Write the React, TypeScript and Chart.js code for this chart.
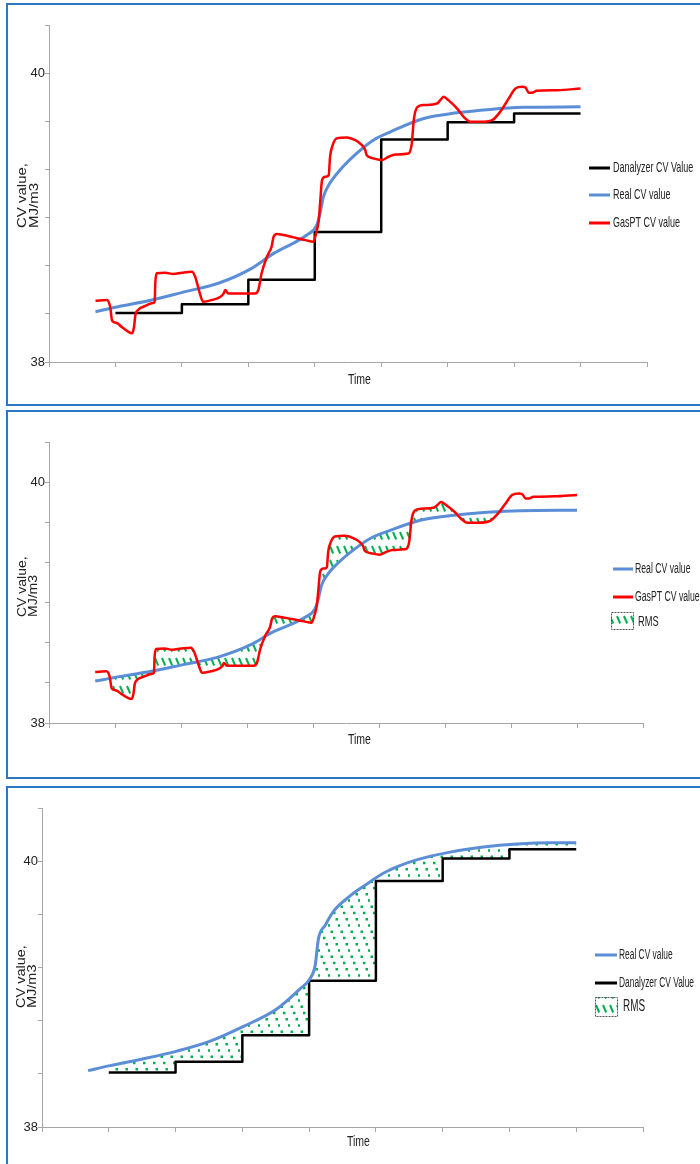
import React, { useEffect, useRef } from 'react';
import { Chart, registerables } from 'chart.js';

Chart.register(...registerables);

// ---------- data ----------
const xTicks = [0, 1, 2, 3, 4, 5, 6, 7, 8, 9];
const yTicksTop = [38, 38 + 1 / 3, 38 + 2 / 3, 39, 39 + 1 / 3, 39 + 2 / 3, 40, 40 + 1 / 3];
const yTicksBottom = [38, 38.4, 38.8, 39.2, 39.6, 40, 40.4];
const yTickLabels = [38, 40];

const stepTimes = [1, 2, 3, 4, 5, 6, 7, 8];
const danalyzerCV = [38.34, 38.4, 38.57, 38.9, 39.54, 39.66, 39.72, 39.72];
const danalyzerCV3 = [38.41, 38.49, 38.69, 39.1, 39.85, 40.02, 40.09, 40.09];

const realTimes = [0.7, 1.04, 1.55, 2.05, 2.55, 3.05, 3.38, 3.88, 4.03, 4.08, 4.13, 4.21, 4.38, 4.63, 4.88, 5.14, 5.64, 6.14, 6.64, 7.14, 8.0];
const realCV = [38.348, 38.383, 38.429, 38.487, 38.545, 38.648, 38.752, 38.879, 38.948, 39.03, 39.144, 39.225, 39.329, 39.444, 39.536, 39.594, 39.686, 39.725, 39.749, 39.763, 39.767];

const realTimes3 = [0.69, 1.02, 1.52, 2.02, 2.52, 3.01, 3.51, 3.86, 4.01, 4.09, 4.14, 4.24, 4.36, 4.6, 4.86, 5.11, 5.36, 5.61, 6.11, 6.61, 7.11, 7.6, 8.0];
const realCV3 = [38.424, 38.462, 38.513, 38.571, 38.646, 38.755, 38.886, 39.038, 39.114, 39.214, 39.417, 39.517, 39.619, 39.733, 39.826, 39.909, 39.967, 40.01, 40.068, 40.106, 40.129, 40.139, 40.139];

const gasTimes = [
  0.7, 0.87, 0.92, 0.95, 1.02, 1.09, 1.19, 1.25, 1.28, 1.3, 1.34, 1.45, 1.55, 1.59, 1.6, 1.62, 1.75, 1.87, 2.0, 2.15,
  2.2, 2.27, 2.32, 2.45, 2.58, 2.63, 2.65, 2.7, 2.85, 3.1, 3.15, 3.2, 3.28, 3.35, 3.38, 3.43, 3.53, 3.68, 3.86, 3.98,
  4.02, 4.06, 4.08, 4.11, 4.16, 4.21, 4.23, 4.27, 4.33, 4.48, 4.61, 4.71, 4.76, 4.78, 4.88, 5.01, 5.11, 5.21, 5.41, 5.46,
  5.49, 5.54, 5.64, 5.84, 5.89, 5.94, 6.01, 6.14, 6.24, 6.34, 6.49, 6.67, 6.79, 6.92, 7.02, 7.12, 7.17, 7.22, 7.27, 7.34,
  7.65, 8.0,
];
const gasCV = [
  38.424, 38.429, 38.383, 38.286, 38.27, 38.244, 38.21, 38.199, 38.244, 38.325, 38.36, 38.388, 38.406, 38.417, 38.547, 38.614, 38.618, 38.609, 38.618, 38.625,
  38.59, 38.475, 38.417, 38.429, 38.452, 38.475, 38.498, 38.475, 38.475, 38.475, 38.498, 38.614, 38.729, 38.798, 38.867, 38.886, 38.879, 38.863, 38.844, 38.833,
  38.891, 38.983, 39.098, 39.26, 39.282, 39.294, 39.421, 39.502, 39.548, 39.555, 39.536, 39.502, 39.467, 39.433, 39.41, 39.398, 39.421, 39.437, 39.444, 39.513,
  39.675, 39.763, 39.779, 39.79, 39.813, 39.836, 39.813, 39.756, 39.698, 39.663, 39.663, 39.675, 39.732, 39.825, 39.894, 39.905, 39.901, 39.864, 39.864, 39.878,
  39.882, 39.894,
];
const rmsRange = [0.92, 6.79];

// ---------- styles ----------
const BLUE = '#5B8ED6';
const RED = '#FF0000';
const BLACK = '#000000';
const GREEN = '#00B050';
const AXIS = '#A6A6A6';
const TEXT = '#222222';
const FONT = '"Liberation Sans", Arial, sans-serif';
const BORDER = '#2B78C2';

const pts = (xs: number[], ys: number[]) => xs.map((x, i) => ({ x, y: ys[i] }));

function dashHatch(ctx: CanvasRenderingContext2D): CanvasPattern | string {
  const t = document.createElement('canvas');
  t.width = 7;
  t.height = 14;
  const c = t.getContext('2d')!;
  c.strokeStyle = GREEN;
  c.lineWidth = 2;
  c.lineCap = 'butt';
  c.beginPath();
  c.moveTo(1, 1);
  c.lineTo(4.2, 8.5);
  c.stroke();
  return ctx.createPattern(t, 'repeat') || GREEN;
}

function dotHatch(ctx: CanvasRenderingContext2D): CanvasPattern | string {
  const t = document.createElement('canvas');
  t.width = 10;
  t.height = 25;
  const c = t.getContext('2d')!;
  c.fillStyle = GREEN;
  for (let k = 0; k < 4; k++) {
    c.fillRect(0.5 + k * 2.5, 0.5 + k * 6.25, 2.5, 2.5);
  }
  return ctx.createPattern(t, 'repeat') || GREEN;
}

function drawText(
  ctx: CanvasRenderingContext2D,
  text: string,
  x: number,
  y: number,
  size: number,
  sx = 1,
  rot = 0,
  sy = 1
) {
  ctx.save();
  ctx.translate(x, y);
  if (rot) ctx.rotate(rot);
  ctx.scale(sx, sy);
  ctx.font = `${size}px ${FONT}`;
  ctx.fillStyle = TEXT;
  ctx.textAlign = 'left';
  ctx.textBaseline = 'middle';
  ctx.fillText(text, 0, 0);
  ctx.restore();
}

type LegendItem =
  | { kind: 'line'; color: string; label: string; y: number }
  | { kind: 'hatch'; label: string; y: number; box: [number, number, number, number]; textX: number; size: number };

type PanelCfg = {
  top: number;
  height: number;
  area: { left: number; top: number; right: number; bottom: number };
  yTicks: number[];
  yTitle: { size: number; lines: { text: string; x: number; y: number }[] };
  xTitle: { x: number; y: number };
  legend: { x0: number; x1: number; textX: number; size: number; sx: number; items: LegendItem[] };
  build: (ctx: CanvasRenderingContext2D) => any[];
};

function Panel({ cfg }: { cfg: PanelCfg }) {
  const ref = useRef<HTMLCanvasElement>(null);
  useEffect(() => {
    const canvas = ref.current!;
    const ctx = canvas.getContext('2d')!;
    const swatch = dashHatch(ctx);
    const W = 700;
    const { area } = cfg;
    const deco = {
      id: 'deco',
      afterDraw(chart: any) {
        const c: CanvasRenderingContext2D = chart.ctx;
        cfg.yTitle.lines.forEach((l) => drawText(c, l.text, l.x, l.y, cfg.yTitle.size, 1, -Math.PI / 2, 0.85));
        drawText(c, 'Time', cfg.xTitle.x, cfg.xTitle.y, 14, 0.75);
        const lg = cfg.legend;
        lg.items.forEach((it) => {
          if (it.kind === 'line') {
            c.save();
            c.strokeStyle = it.color;
            c.lineWidth = 3;
            c.beginPath();
            c.moveTo(lg.x0, it.y);
            c.lineTo(lg.x1, it.y);
            c.stroke();
            c.restore();
            drawText(c, it.label, lg.textX, it.y, lg.size, lg.sx);
          } else {
            const [bx, by, bw, bh] = it.box;
            c.save();
            c.fillStyle = swatch as any;
            c.fillRect(bx, by, bw, bh);
            c.strokeStyle = '#555';
            c.lineWidth = 1;
            c.setLineDash([2, 1]);
            c.strokeRect(bx + 0.5, by + 0.5, bw - 1, bh - 1);
            c.restore();
            drawText(c, it.label, it.textX, it.y, it.size, 0.62);
          }
        });
      },
    };
    const chart = new Chart(canvas, {
      type: 'line',
      data: { datasets: cfg.build(ctx) },
      options: {
        animation: false,
        responsive: false,
        maintainAspectRatio: false,
        events: [],
        layout: { padding: { left: 0, top: area.top, right: W - area.right, bottom: 0 } },
        plugins: { legend: { display: false }, tooltip: { enabled: false }, title: { display: false } },
        elements: { point: { radius: 0 }, line: { borderJoinStyle: 'round' } },
        scales: {
          x: {
            type: 'linear',
            min: 0,
            max: 9,
            afterBuildTicks: (a: any) => {
              a.ticks = xTicks.map((v) => ({ value: v }));
            },
            ticks: { callback: () => '', padding: 0, font: { size: 1 } },
            grid: { drawOnChartArea: false, drawTicks: true, tickLength: 5, color: AXIS },
            border: { color: AXIS, width: 1 },
            afterFit: (s: any) => {
              s.height = cfg.height - area.bottom;
            },
          },
          y: {
            type: 'linear',
            min: cfg.yTicks[0],
            max: cfg.yTicks[cfg.yTicks.length - 1],
            afterBuildTicks: (a: any) => {
              a.ticks = cfg.yTicks.map((v) => ({ value: v }));
            },
            ticks: {
              callback: (v: any) => {
                const hit = yTickLabels.find((l) => Math.abs(l - Number(v)) < 1e-6);
                return hit !== undefined ? String(hit) : '';
              },
              padding: 0,
              color: TEXT,
              font: { family: FONT, size: 13 },
            },
            grid: { drawOnChartArea: false, drawTicks: true, tickLength: 4, color: AXIS },
            border: { color: AXIS, width: 1 },
            afterFit: (s: any) => {
              s.width = area.left;
            },
          },
        },
      } as any,
      plugins: [deco],
    });
    return () => chart.destroy();
  }, [cfg]);
  return (
    <canvas
      ref={ref}
      width={700}
      height={cfg.height}
      style={{ position: 'absolute', left: 0, top: cfg.top, width: 700, height: cfg.height }}
    />
  );
}

const lineDs = (label: string, data: any[], color: string, width: number, extra: any = {}) => ({
  label,
  data,
  borderColor: color,
  backgroundColor: color,
  borderWidth: width,
  pointRadius: 0,
  fill: false,
  ...extra,
});

const panel1: PanelCfg = {
  top: 0,
  height: 405,
  area: { left: 49, top: 25, right: 647, bottom: 362 },
  yTicks: yTicksTop,
  yTitle: { size: 15, lines: [{ text: 'CV value,', x: 22, y: 228 }, { text: 'MJ/m3', x: 34, y: 228 }] },
  xTitle: { x: 348, y: 380 },
  legend: {
    x0: 589,
    x1: 610,
    textX: 613,
    size: 15,
    sx: 0.6,
    items: [
      { kind: 'line', color: BLACK, label: 'Danalyzer CV Value', y: 168 },
      { kind: 'line', color: BLUE, label: 'Real CV value', y: 195 },
      { kind: 'line', color: RED, label: 'GasPT CV value', y: 223 },
    ],
  },
  build: () => [
    lineDs('GasPT CV value', pts(gasTimes, gasCV), RED, 2.5, { cubicInterpolationMode: 'monotone' }),
    lineDs('Real CV value', pts(realTimes, realCV), BLUE, 3, { cubicInterpolationMode: 'monotone' }),
    lineDs('Danalyzer CV Value', pts(stepTimes, danalyzerCV), BLACK, 2.5, { stepped: 'before' }),
  ],
};

const panel2: PanelCfg = {
  top: 405,
  height: 375,
  area: { left: 49, top: 37, right: 643, bottom: 318 },
  yTicks: yTicksTop,
  yTitle: { size: 14, lines: [{ text: 'CV value,', x: 23, y: 212 }, { text: 'MJ/m3', x: 34, y: 212 }] },
  xTitle: { x: 348, y: 335 },
  legend: {
    x0: 613,
    x1: 633,
    textX: 635,
    size: 14,
    sx: 0.62,
    items: [
      { kind: 'line', color: BLUE, label: 'Real CV value', y: 164 },
      { kind: 'line', color: RED, label: 'GasPT CV value', y: 192 },
      { kind: 'hatch', label: 'RMS', y: 217, box: [611, 207, 23, 18], textX: 638, size: 15 },
    ],
  },
  build: (ctx) => {
    const gas = pts(gasTimes, gasCV);
    const rms = gas.filter((p) => p.x >= rmsRange[0] && p.x <= rmsRange[1]);
    return [
      lineDs('GasPT CV value', gas, RED, 2.5, { cubicInterpolationMode: 'monotone' }),
      lineDs('Real CV value', pts(realTimes, realCV), BLUE, 3, { cubicInterpolationMode: 'monotone' }),
      {
        label: 'RMS',
        data: rms,
        borderWidth: 0,
        borderColor: 'rgba(0,0,0,0)',
        backgroundColor: dashHatch(ctx),
        pointRadius: 0,
        cubicInterpolationMode: 'monotone',
        fill: { target: 1 },
      },
    ];
  },
};

const panel3: PanelCfg = {
  top: 780,
  height: 384,
  area: { left: 42, top: 28, right: 643, bottom: 347 },
  yTicks: yTicksBottom,
  yTitle: { size: 14.5, lines: [{ text: 'CV value,', x: 22, y: 228 }, { text: 'MJ/m3', x: 33, y: 228 }] },
  xTitle: { x: 347, y: 362 },
  legend: {
    x0: 595,
    x1: 617,
    textX: 619,
    size: 14,
    sx: 0.6,
    items: [
      { kind: 'line', color: BLUE, label: 'Real CV value', y: 175 },
      { kind: 'line', color: BLACK, label: 'Danalyzer CV Value', y: 203 },
      { kind: 'hatch', label: 'RMS', y: 227, box: [595, 217, 23, 20], textX: 623, size: 16 },
    ],
  },
  build: (ctx) => [
    lineDs('Real CV value', pts(realTimes3, realCV3), BLUE, 3, { cubicInterpolationMode: 'monotone' }),
    {
      ...lineDs('Danalyzer CV Value', pts(stepTimes, danalyzerCV3), BLACK, 2.5, { stepped: 'before' }),
      backgroundColor: dotHatch(ctx),
      fill: { target: 0 },
    },
  ],
};

const frames = [
  { top: 3, height: 403 },
  { top: 410, height: 369 },
  { top: 786, height: 400 },
];

export default function App() {
  return (
    <div
      style={{
        position: 'absolute',
        left: 0,
        top: 0,
        width: 700,
        height: 1164,
        overflow: 'hidden',
        background: '#ffffff',
      }}
    >
      <Panel cfg={panel1} />
      <Panel cfg={panel2} />
      <Panel cfg={panel3} />
      {frames.map((f, i) => (
        <div
          key={i}
          style={{
            position: 'absolute',
            left: 6,
            top: f.top,
            width: 720,
            height: f.height,
            border: `2px solid ${BORDER}`,
            boxSizing: 'border-box',
            pointerEvents: 'none',
          }}
        />
      ))}
    </div>
  );
}
